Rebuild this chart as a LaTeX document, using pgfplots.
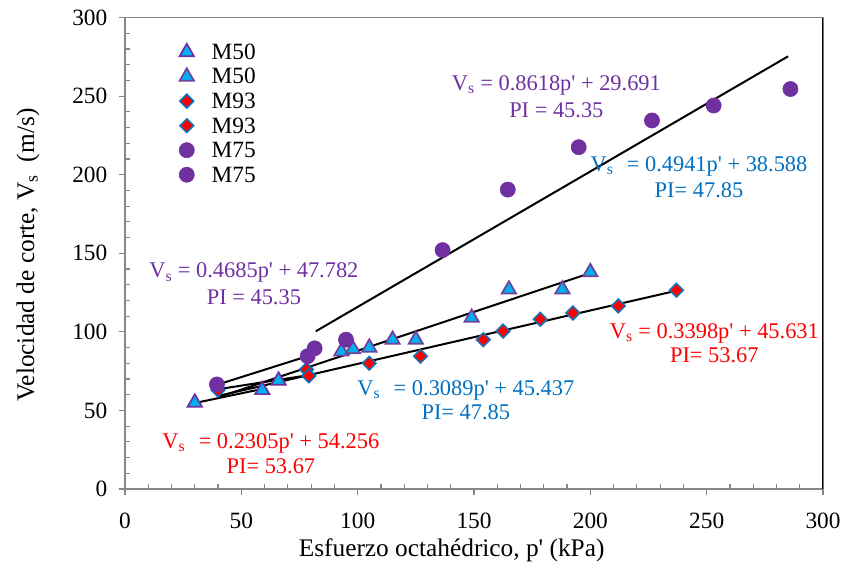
\documentclass[border=0pt]{standalone}
\usepackage{fontspec}
\setmainfont{Liberation Serif}
\setsansfont{Liberation Serif}
\usepackage{pgfplots}
\pgfplotsset{compat=1.18}
\definecolor{mpurple}{HTML}{7030A0}
\definecolor{mblue}{HTML}{0070C0}
\definecolor{mcyan}{HTML}{00B0F0}
\definecolor{mred}{HTML}{FF0000}
\definecolor{axgray}{HTML}{878787}
\newcommand{\Vs}{V\textsubscript{s}}
\newcommand{\ap}{\textquotesingle}
\newcommand{\fs}{\rmfamily\fontsize{16.8}{20}\selectfont}
\newcommand{\ft}{\rmfamily\fontsize{17.5}{21}\selectfont}
\newcommand{\fl}{\rmfamily\fontsize{19}{23}\selectfont}

\begin{document}
\fs
\begin{tikzpicture}[font=\fs]
\begin{axis}[
  at={(0,0)}, anchor=south west,
  scale only axis, width=523.5pt, height=353.6pt,
  xmin=0, xmax=300, ymin=0, ymax=300,
  xtick={0,50,...,300}, ytick={0,50,...,300},
  minor x tick num=4, minor y tick num=4,
  xtick pos=bottom, ytick pos=left,
  tick align=outside,
  major tick length=4.5pt, minor tick length=-4pt,
  axis line style={axgray, line width=1pt},
  every tick/.style={axgray, line width=0.9pt},
  ticklabel style={font=\ft},
  xticklabel style={yshift=-7.5pt},
  yticklabel style={xshift=-3pt},
  /pgf/number format/assume math mode=true,
  xlabel={Esfuerzo octahédrico, p\ap{} (kPa)},
  ylabel={Velocidad de corte, \Vs\ \ (m/s)},
  label style={font=\fl},
  xlabel style={at={(axis description cs:0.468,-0.131)}, anchor=center},
  ylabel style={at={(axis description cs:-0.139,0.496)}, anchor=center},
  legend style={at={(rel axis cs:0.0715,0.957)}, anchor=north west, draw=none, fill=none,
    font=\ft, row sep=1.4pt, nodes={inner sep=3pt, text height=11pt, text depth=0pt}},
  legend cell align=left,
]
% M50
\addplot[only marks, mark=triangle*, mark size=6.2pt, mark options={fill=mcyan, draw=mpurple, line width=1.3pt}]
  coordinates {(30,55) (59,63) (66,69)};
\addlegendentry{\hspace{10pt}M50}
\addplot[only marks, mark=triangle*, mark size=6.2pt, mark options={fill=mcyan, draw=mpurple!80!gray, line width=1.3pt}]
  coordinates {(93,87.5) (98,89) (105,90) (115,95) (125,95) (149,109) (165,127) (188,127) (200,138)};
\addlegendentry{\hspace{10pt}M50}
% M93
\addplot[only marks, mark=square*, mark size=3.6pt, mark options={rotate=45, fill=mred, draw=mblue, line width=1.2pt}]
  coordinates {(40,63) (78,76) (79,72)};
\addlegendentry{\hspace{10pt}M93}
\addplot[only marks, mark=square*, mark size=3.6pt, mark options={rotate=45, fill=mred, draw=mblue!80!gray, line width=1.2pt}]
  coordinates {(105,80) (127,84.5) (154,95) (162.5,100.5) (178.5,108) (192.5,112) (212,116.5) (237,126.5)};
\addlegendentry{\hspace{10pt}M93}
% M75
\addplot[only marks, mark=*, mark size=5.7pt, mark options={fill=mpurple, draw=mpurple}]
  coordinates {(39.5,66.5) (78.5,84.5) (81.5,89.5)};
\addlegendentry{\hspace{10pt}M75}
\addplot[only marks, mark=*, mark size=5.7pt, mark options={fill=mpurple, draw=mpurple}]
  coordinates {(95,95) (136.5,152) (164.5,190.5) (195,217.5) (226.5,234.5) (253,244) (286,254.5)};
\addlegendentry{\hspace{10pt}M75}
% trend lines
\addplot[black, line width=1.5pt, forget plot] coordinates {(30,54.704) (60,63.971)};
\addplot[black, line width=1.5pt, forget plot] coordinates {(40,58.352) (200,137.408)};
\addplot[black, line width=1.5pt, forget plot] coordinates {(40,63.476) (80,72.696)};
\addplot[black, line width=1.5pt, forget plot] coordinates {(40,59.223) (237,126.164)};
\addplot[black, line width=1.5pt, forget plot] coordinates {(39.5,66.288) (80,85.262)};
\addplot[black, line width=1.5pt, forget plot] coordinates {(82,100.359) (285,275.304)};
\draw[black, line width=1pt] (rel axis cs:1,0) -- (rel axis cs:1,1);
% annotations
\node[mpurple, anchor=base, font=\fs] at (axis cs:185.4,253.7) {\Vs\ = 0.8618p\ap{} + 29.691};
\node[mpurple, anchor=base, font=\fs] at (axis cs:185.4,236.4) {PI = 45.35};
\node[mblue, anchor=base, font=\fs] at (axis cs:246.7,202) {\Vs\hspace{10pt}= 0.4941p\ap{} + 38.588};
\node[mblue, anchor=base, font=\fs] at (axis cs:246.7,185.4) {PI= 47.85};
\node[mpurple, anchor=base, font=\fs] at (axis cs:55.4,134.3) {\Vs\ = 0.4685p\ap{} + 47.782};
\node[mpurple, anchor=base, font=\fs] at (axis cs:55.4,117.7) {PI = 45.35};
\node[mblue, anchor=base, font=\fs] at (axis cs:146.5,59.7) {\Vs\hspace{10pt}= 0.3089p\ap{} + 45.437};
\node[mblue, anchor=base, font=\fs] at (axis cs:146.5,44.3) {PI= 47.85};
\node[mred, anchor=base, font=\fs] at (axis cs:253.3,96) {\Vs\ = 0.3398p\ap{} + 45.631};
\node[mred, anchor=base, font=\fs] at (axis cs:253.3,80.7) {PI= 53.67};
\node[mred, anchor=base, font=\fs] at (axis cs:62.7,25.8) {\Vs\hspace{10pt}= 0.2305p\ap{} + 54.256};
\node[mred, anchor=base, font=\fs] at (axis cs:62.7,9.9) {PI= 53.67};
\end{axis}
\pgfresetboundingbox
\path[use as bounding box] (-93.75pt,-63.75pt) rectangle (542.25pt,366.75pt);
\end{tikzpicture}
\end{document}
